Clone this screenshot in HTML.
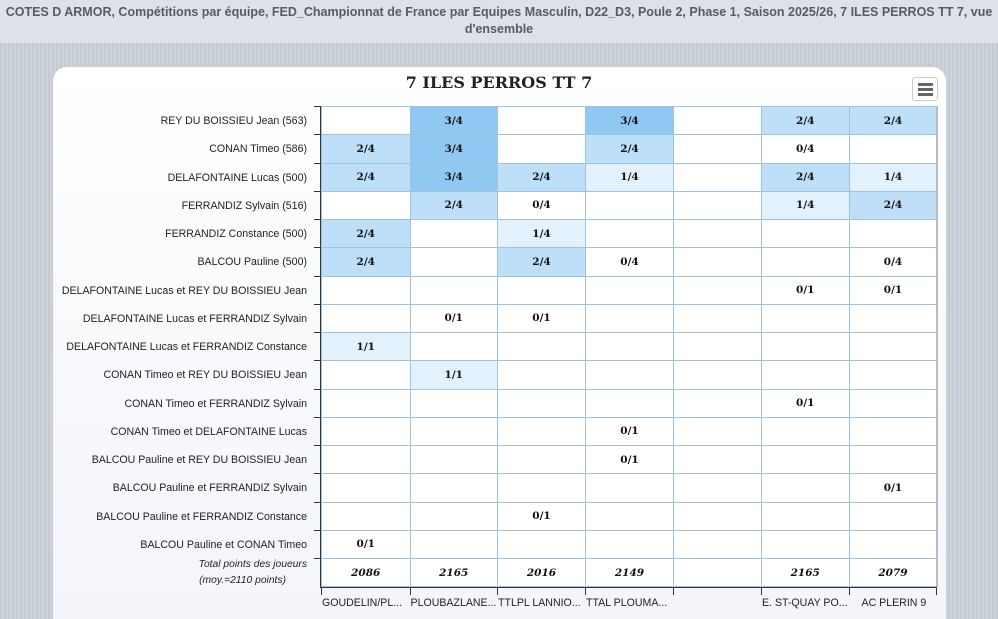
<!DOCTYPE html>
<html><head><meta charset="utf-8"><style>
body{margin:0;width:998px;height:619px;overflow:hidden;font-family:"Liberation Sans",sans-serif;
background:repeating-linear-gradient(90deg,#c3cad2 0 2px,#cdd3da 2px 4px);position:relative}
.hdr{position:absolute;left:0;top:0;width:998px;height:43px;background:#dde2ea;color:#555c66;font-weight:bold;font-size:12.5px;text-align:center;line-height:17px;padding-top:4px;box-sizing:border-box}
.card{position:absolute;left:53px;top:67px;width:893px;height:552px;border-radius:14px 14px 0 0;background:linear-gradient(#fff,#f4f5fb)}
.title{position:absolute;left:0;width:998px;top:73px;text-align:center;font-family:"DejaVu Serif","Liberation Serif",serif;font-weight:bold;font-size:16px;color:#222}
.menu{position:absolute;left:912px;top:77px;width:24px;height:22px;border:1px solid #ccc;border-radius:3px;background:#fff}
.menu i{position:absolute;left:5px;width:15px;height:3px;background:#666}
.c{position:absolute;box-sizing:border-box;border:1px solid #9fc2de;text-align:center;font-family:"DejaVu Serif","Liberation Serif",serif;font-weight:bold;font-size:10.5px;color:#111;display:flex;align-items:center;justify-content:center}
.lab{position:absolute;right:691px;font-size:10.6px;color:#222;white-space:nowrap}
.xl{position:absolute;top:597px;font-size:10.6px;color:#222;white-space:nowrap}
</style></head><body>
<div class="hdr">COTES D ARMOR, Compétitions par équipe, FED_Championnat de France par Equipes Masculin, D22_D3, Poule 2, Phase 1, Saison 2025/26, 7 ILES PERROS TT 7, vue<br>d'ensemble</div>
<div class="card"></div>
<div class="title">7 ILES PERROS TT 7</div>
<div class="menu"><i style="top:5px"></i><i style="top:10px"></i><i style="top:15px"></i></div>
<div id="g"></div>
<div style="position:absolute;left:320px;top:106px;width:1px;height:482px;background:#333"></div>
<div style="position:absolute;left:320px;top:587px;width:617px;height:1px;background:#333"></div>
<div style="position:absolute;left:936px;top:106px;width:2px;height:481px;background:#bbb"></div>
<script>
(function(){
var rows=[["REY DU BOISSIEU Jean (563)",["","3/4","","3/4","","2/4","2/4"]],
["CONAN Timeo (586)",["2/4","3/4","","2/4","","0/4",""]],
["DELAFONTAINE Lucas (500)",["2/4","3/4","2/4","1/4","","2/4","1/4"]],
["FERRANDIZ Sylvain (516)",["","2/4","0/4","","","1/4","2/4"]],
["FERRANDIZ Constance (500)",["2/4","","1/4","","","",""]],
["BALCOU Pauline (500)",["2/4","","2/4","0/4","","","0/4"]],
["DELAFONTAINE Lucas et REY DU BOISSIEU Jean",["","","","","","0/1","0/1"]],
["DELAFONTAINE Lucas et FERRANDIZ Sylvain",["","0/1","0/1","","","",""]],
["DELAFONTAINE Lucas et FERRANDIZ Constance",["1/1","","","","","",""]],
["CONAN Timeo et REY DU BOISSIEU Jean",["","1/1","","","","",""]],
["CONAN Timeo et FERRANDIZ Sylvain",["","","","","","0/1",""]],
["CONAN Timeo et DELAFONTAINE Lucas",["","","","0/1","","",""]],
["BALCOU Pauline et REY DU BOISSIEU Jean",["","","","0/1","","",""]],
["BALCOU Pauline et FERRANDIZ Sylvain",["","","","","","","0/1"]],
["BALCOU Pauline et FERRANDIZ Constance",["","","0/1","","","",""]],
["BALCOU Pauline et CONAN Timeo",["0/1","","","","","",""]],
["",["2086","2165","2016","2149","","2165","2079"]]];
var xs=[321,409.5,497,585,673,761,848.5,936.5],y0=106,h=28.25,o="";
var col={"3/4":"#90c8f4","2/4":"#bde0f8","1/4":"#e3f1fc","1/1":"#e3f1fc"};
rows.forEach(function(r,i){var y=y0+i*h;
 if(r[0])o+='<div class="lab" style="top:'+(y+9)+'px">'+r[0]+'</div>';
 o+='<div style="position:absolute;left:314px;top:'+Math.round(y)+'px;width:7px;height:1px;background:#333"></div>';
 r[1].forEach(function(v,j){var bg=col[v]||"#fff";
  o+='<div class="c" style="left:'+xs[j]+'px;top:'+y+'px;width:'+(xs[j+1]-xs[j]+1)+'px;height:'+(h+1)+'px;background:'+bg+(i==16?';font-style:italic':'')+'">'+v+'</div>';});
});
o+='<div class="lab" style="top:559px;font-style:italic;font-size:10.3px">Total points des joueurs</div><div class="lab" style="top:575px;right:712px;font-style:italic;font-size:10.3px">(moy.=2110 points)</div>';
var nm=["GOUDELIN/PL...","PLOUBAZLANE...","TTLPL LANNIO...","TTAL PLOUMA...","","E. ST-QUAY PO...","AC PLERIN 9"];
nm.forEach(function(n,j){o+='<div style="position:absolute;left:'+Math.round(xs[j])+'px;top:587px;width:1px;height:8px;background:#333"></div>';
 if(n)o+='<div class="xl" style="left:'+(j==6?xs[j]+13:xs[j]+1)+'px">'+n+'</div>';});
o+='<div style="position:absolute;left:936px;top:587px;width:1px;height:8px;background:#333"></div>';
document.getElementById("g").innerHTML=o;
})();
</script>
</body></html>
